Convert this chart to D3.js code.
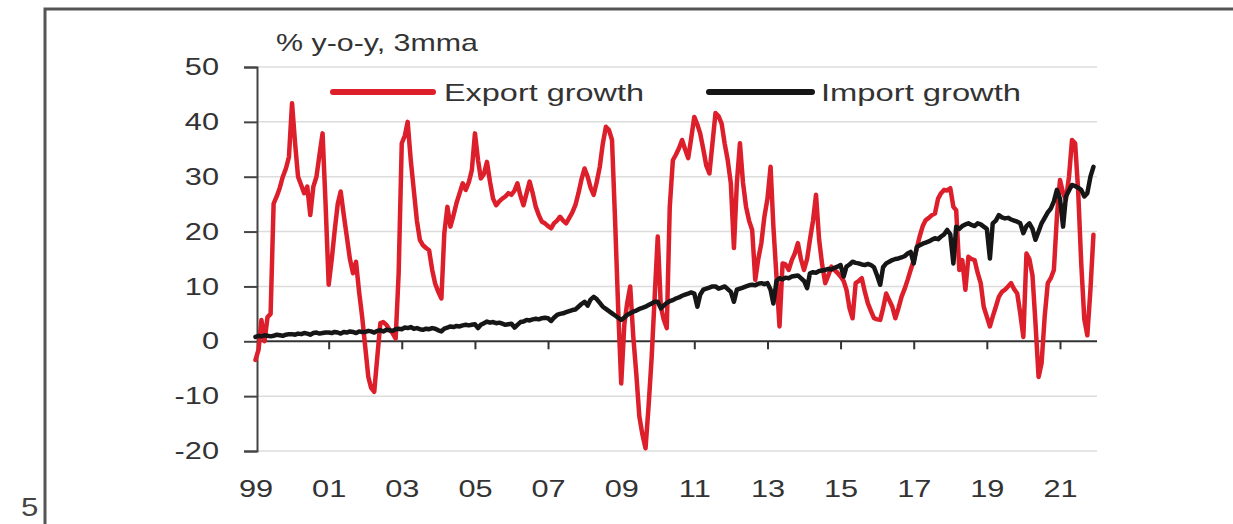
<!DOCTYPE html>
<html>
<head>
<meta charset="utf-8">
<script src="https://cdn.jsdelivr.net/npm/d3@7"></script>
<style>
  html, body { margin: 0; padding: 0; background: #fff; overflow: hidden; }
  svg { display: block; }
  text { font-family: "Liberation Sans", Arial, sans-serif; }
</style>
</head>
<body>
<svg id="chart" width="1233" height="524"></svg>
<script>
// Monthly series, % y-o-y (3-month moving average), starting January 1999
const firstMonth = "1999-01";

const exportGrowth = [
  -3.4, -1.5, 3.9, 0.0, 4.4, 5.0, 25.1, 26.4, 28.0, 30.0, 31.5, 33.6,      // 1999
  43.4, 36.0, 30.0, 28.5, 27.0, 28.2, 23.0, 28.2, 30.0, 34.0, 37.9, 25.0,  // 2000
  10.3, 15.0, 20.0, 25.0, 27.3, 23.0, 19.1, 15.0, 12.4, 14.5, 9.0, 4.5,    // 2001
  -1.0, -6.5, -8.5, -9.2, -3.0, 3.3, 3.5, 3.0, 2.1, 1.5, 0.5, 12.4,        // 2002
  36.1, 37.5, 40.0, 33.0, 27.6, 22.0, 18.5, 17.5, 17.0, 16.6, 13.0, 10.5,  // 2003
  9.0, 7.8, 19.7, 24.5, 20.9, 23.0, 25.2, 27.0, 28.8, 27.6, 29.0, 31.2,    // 2004
  37.9, 33.0, 29.7, 30.5, 32.7, 29.0, 26.0, 24.8, 25.5, 26.0, 26.4, 27.0,  // 2005
  26.7, 27.5, 28.8, 26.5, 24.8, 27.0, 29.1, 27.0, 24.5, 23.0, 21.8, 21.5,  // 2006
  21.0, 20.6, 21.5, 22.0, 22.7, 22.0, 21.5, 22.5, 23.5, 24.8, 27.0, 29.5,  // 2007
  31.5, 30.0, 28.0, 26.7, 29.0, 31.8, 36.0, 39.1, 38.5, 36.7, 22.0, 6.3,   // 2008
  -7.7, 3.0, 6.9, 10.0, 1.0, -6.0, -13.7, -17.0, -19.5, -11.9, -3.0, 8.0,  // 2009
  19.1, 6.3, 4.0, 2.4, 24.5, 33.0, 34.0, 35.2, 36.7, 35.0, 33.4, 37.0,     // 2010
  40.9, 39.5, 37.9, 35.0, 32.0, 30.6, 36.0, 41.6, 41.0, 39.7, 36.0, 33.0,  // 2011
  28.8, 17.0, 28.8, 36.1, 29.0, 24.5, 22.0, 20.3, 11.2, 15.0, 17.9, 22.7,  // 2012
  26.0, 31.8, 20.9, 11.8, 2.7, 14.2, 14.0, 13.0, 14.8, 16.0, 17.9, 15.0,   // 2013
  13.0, 15.0, 18.5, 22.0, 26.7, 18.5, 14.0, 10.6, 12.0, 13.6, 13.0, 12.5,  // 2014
  11.8, 11.0, 9.4, 6.0, 4.2, 10.6, 11.0, 11.5, 9.0, 6.9, 5.5, 4.2,         // 2015
  4.0, 3.9, 6.0, 8.7, 7.5, 6.3, 4.2, 6.0, 8.1, 9.5, 11.2, 13.0,            // 2016
  14.8, 17.0, 19.1, 21.0, 22.1, 22.5, 23.0, 23.3, 26.0, 27.0, 27.6, 27.5,  // 2017
  27.9, 24.5, 23.9, 13.0, 14.8, 9.4, 15.4, 15.0, 14.8, 12.5, 10.6, 6.3,    // 2018
  4.5, 2.7, 4.5, 6.3, 8.1, 9.0, 9.4, 10.0, 10.6, 9.5, 8.7, 5.1,            // 2019
  0.8, 16.0, 15.0, 12.0, 3.3, -6.5, -4.0, 4.5, 10.6, 11.5, 13.0, 22.7,     // 2020
  29.4, 27.0, 25.8, 30.0, 36.7, 36.1, 27.6, 14.2, 4.0, 1.1, 9.4, 19.4      // 2021
];

const importGrowth = [
  0.8, 1.0, 0.9, 1.1, 1.0, 0.9, 1.0, 1.2, 1.1, 1.0, 1.2, 1.3,              // 1999
  1.3, 1.2, 1.4, 1.3, 1.5, 1.4, 1.2, 1.5, 1.6, 1.4, 1.5, 1.6,              // 2000
  1.6, 1.5, 1.7, 1.6, 1.4, 1.7, 1.6, 1.8, 1.7, 1.5, 1.8, 1.7,              // 2001
  1.7, 1.9, 1.8, 1.6, 1.9, 2.0, 1.8, 2.1, 2.0, 1.9, 2.2, 2.3,              // 2002
  2.2, 2.5, 2.4, 2.6, 2.3, 2.4, 2.2, 2.1, 2.3, 2.2, 2.4, 2.3,              // 2003
  2.0, 1.8, 2.3, 2.5, 2.7, 2.6, 2.8, 2.7, 2.9, 3.0, 2.9, 3.0,              // 2004
  3.1, 2.4, 3.0, 3.3, 3.6, 3.4, 3.5, 3.3, 3.4, 3.2, 3.0, 3.1,              // 2005
  3.2, 2.5, 3.0, 3.5, 3.6, 3.9, 3.8, 4.0, 4.1, 4.0, 4.2, 4.3,              // 2006
  4.2, 3.7, 4.3, 4.8, 5.0, 5.1, 5.3, 5.5, 5.7, 5.8, 6.3, 6.8,              // 2007
  7.2, 6.5, 7.6, 8.1, 7.7, 7.0, 6.3, 5.9, 5.5, 5.1, 4.7, 4.3,              // 2008
  3.9, 4.3, 4.8, 5.1, 5.4, 5.6, 5.9, 6.1, 6.3, 6.6, 6.9, 7.2,              // 2009
  7.2, 6.0, 6.5, 7.0, 7.3, 7.5, 7.8, 8.0, 8.3, 8.5, 8.7, 8.9,              // 2010
  8.7, 6.3, 8.5, 9.4, 9.6, 9.8, 10.0, 10.0, 9.6, 9.8, 10.0, 9.5,           // 2011
  9.0, 7.2, 9.4, 9.6, 9.8, 10.0, 10.2, 10.3, 10.2, 10.5, 10.6, 10.4,       // 2012
  10.6, 9.4, 6.9, 11.0, 11.5, 11.3, 11.6, 11.5, 11.8, 11.9, 12.0, 11.5,    // 2013
  11.0, 9.7, 12.4, 12.6, 12.5, 12.8, 12.9, 13.0, 13.2, 13.1, 13.4, 13.6,   // 2014
  13.9, 11.8, 13.6, 14.0, 14.5, 14.3, 14.2, 14.0, 13.9, 14.1, 13.9, 13.5,  // 2015
  12.0, 10.3, 13.5, 14.2, 14.5, 14.8, 15.0, 15.1, 15.3, 15.5, 16.0, 16.3,  // 2016
  14.2, 17.2, 17.5, 17.8, 18.0, 18.2, 18.5, 18.8, 18.6, 19.1, 19.5, 20.3,  // 2017
  19.5, 14.2, 20.9, 20.5, 21.0, 21.3, 21.5, 21.2, 21.0, 21.5, 21.3, 20.9,  // 2018
  20.5, 15.1, 21.5, 22.0, 23.0, 22.6, 22.4, 22.5, 22.2, 22.0, 21.8, 21.5,  // 2019
  19.7, 21.0, 21.5, 20.5, 18.5, 20.0, 21.5, 22.5, 23.5, 24.2, 25.5, 27.6,  // 2020
  26.0, 20.9, 26.4, 27.5, 28.5, 28.3, 28.0, 27.6, 26.4, 27.0, 30.0, 31.8   // 2021
];

const seriesNames = ["Export growth", "Import growth"];
const seriesColors = ["#dc1f2b", "#161616"];
const yTickValues = [-20, -10, 0, 10, 20, 30, 40, 50];
const xTickYears = [1999, 2001, 2003, 2005, 2007, 2009, 2011, 2013, 2015, 2017, 2019, 2021];
const unitLabel = "% y-o-y, 3mma";
const pageNumber = "5";

const svg = d3.select("#chart");
const ink = "#333";
const stretch = 1.28;   // horizontal stretch of the lettering

// page frame
svg.append("path")
  .attr("d", "M45,524V9H1233")
  .attr("fill", "none")
  .attr("stroke", "#555")
  .attr("stroke-width", 3);

svg.append("text")
  .attr("transform", "translate(21,516) scale(1.2,1)")
  .attr("font-size", 26)
  .attr("fill", "#444")
  .text(pageNumber);

// scales
const parseMonth = d3.timeParse("%Y-%m");
const start = parseMonth(firstMonth);
const months = exportGrowth.map((_, i) => d3.timeMonth.offset(start, i));
const x = d3.scaleTime()
  .domain([new Date(1999, 0, 1), new Date(2021, 0, 1)])
  .range([255.5, 1060]);
const y = d3.scaleLinear().domain([-20, 50]).range([451, 67]);
const plotLeft = 257, plotRight = 1097;

// horizontal grid
svg.append("g")
  .selectAll("line")
  .data(yTickValues.filter(v => v !== 0))
  .join("line")
  .attr("x1", plotLeft)
  .attr("x2", plotRight)
  .attr("y1", d => y(d))
  .attr("y2", d => y(d))
  .attr("stroke", "#dcdcdc")
  .attr("stroke-width", 1.5);

// y axis
const yAxis = svg.append("g")
  .attr("transform", `translate(${plotLeft},0)`)
  .call(d3.axisLeft(y)
    .tickValues(yTickValues)
    .tickSize(13)
    .tickSizeOuter(13)
    .tickFormat(d => String(d)));
yAxis.select(".domain").attr("stroke", "#444").attr("stroke-width", 2);
yAxis.selectAll(".tick line").attr("stroke", "#444").attr("stroke-width", 2);
yAxis.selectAll(".tick text")
  .attr("x", 0)
  .attr("transform", `translate(-38,0) scale(${stretch},1)`)
  .attr("font-size", 24)
  .attr("font-family", "Liberation Sans, Arial, sans-serif")
  .attr("fill", ink);

// zero line with year ticks
const xTickDates = xTickYears.map(yr => new Date(yr, 0, 1));
const zeroAxis = svg.append("g")
  .attr("transform", `translate(0,${y(0)})`)
  .call(d3.axisBottom(x)
    .tickValues(xTickDates.slice(1))
    .tickSize(8)
    .tickFormat(""));
zeroAxis.select(".domain").remove();
zeroAxis.selectAll(".tick line").attr("stroke", "#333").attr("stroke-width", 2);
svg.append("line")
  .attr("x1", plotLeft).attr("x2", plotRight)
  .attr("y1", y(0)).attr("y2", y(0))
  .attr("stroke", "#333").attr("stroke-width", 2);

// year labels along the bottom
const xLabels = svg.append("g")
  .attr("transform", "translate(0,480)")
  .call(d3.axisBottom(x)
    .tickValues(xTickDates)
    .tickSize(0)
    .tickPadding(0)
    .tickFormat(d3.timeFormat("%y")));
xLabels.select(".domain").remove();
xLabels.selectAll(".tick text")
  .attr("transform", `scale(${stretch},1)`)
  .attr("font-size", 24)
  .attr("font-family", "Liberation Sans, Arial, sans-serif")
  .attr("fill", ink);

// series lines
const line = d3.line()
  .x((d, i) => x(months[i]))
  .y(d => y(d));

[exportGrowth, importGrowth].forEach((values, k) => {
  svg.append("path")
    .datum(values)
    .attr("d", line)
    .attr("fill", "none")
    .attr("stroke", seriesColors[k])
    .attr("stroke-width", 4.5)
    .attr("stroke-linejoin", "round")
    .attr("stroke-linecap", "round");
});

// unit label
svg.append("text")
  .attr("x", 276)
  .attr("y", 51)
  .attr("font-size", 24)
  .attr("fill", ink)
  .attr("textLength", 202)
  .attr("lengthAdjust", "spacingAndGlyphs")
  .text(unitLabel);

// legend
const legendItems = [
  { x1: 333, x2: 433, tx: 444 },
  { x1: 709, x2: 812, tx: 821 }
];
legendItems.forEach((it, k) => {
  svg.append("line")
    .attr("x1", it.x1).attr("x2", it.x2)
    .attr("y1", 92).attr("y2", 92)
    .attr("stroke", seriesColors[k])
    .attr("stroke-width", 6)
    .attr("stroke-linecap", "round");
  svg.append("text")
    .attr("x", it.tx)
    .attr("y", 100.5)
    .attr("font-size", 24)
    .attr("fill", ink)
    .attr("textLength", 200)
    .attr("lengthAdjust", "spacingAndGlyphs")
    .text(seriesNames[k]);
});
</script>
</body>
</html>
